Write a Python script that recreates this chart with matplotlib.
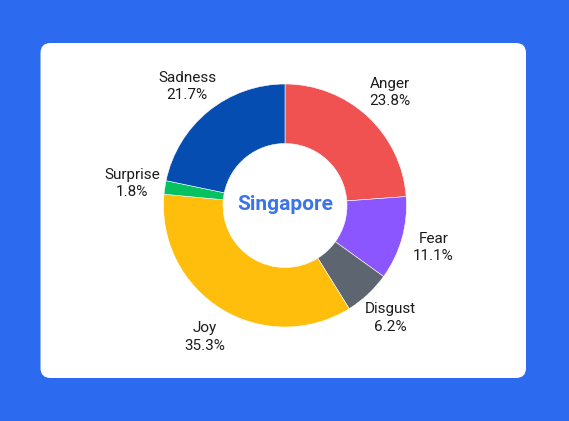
import numpy as np
import matplotlib.pyplot as plt
from matplotlib.patches import FancyBboxPatch

plt.rcParams['font.family'] = ['Roboto', 'DejaVu Sans']

# data
emotions = ['Anger', 'Fear', 'Disgust', 'Joy', 'Surprise', 'Sadness']
shares = [23.8, 11.1, 6.2, 35.3, 1.8, 21.7]
colors = ['#f05252', '#8b55ff', '#5d6570', '#ffbe0b', '#05c160', '#054db0']
center_label = 'Singapore'

W, H = 569, 421
fig = plt.figure(figsize=(W / 100, H / 100), dpi=100)
fig.patch.set_facecolor('#2c6bf0')
ax = fig.add_axes([0, 0, 1, 1])
ax.set_xlim(0, W)
ax.set_ylim(0, H)
ax.set_aspect('equal')
ax.axis('off')

# white card
card = FancyBboxPatch((40.5 + 10, H - 378 + 10), 485.5 - 20, 335 - 20,
                      boxstyle='round,pad=10', fc='white', ec='none')
ax.add_patch(card)

cx, cy = 285, H - 205.5
r_out, r_in = 121.5, 62
ax.pie(shares, colors=colors, startangle=90, counterclock=False,
       center=(cx, cy), radius=r_out, frame=True,
       wedgeprops=dict(width=r_out - r_in, linewidth=0.4, edgecolor='white'))
ax.set_xlim(0, W)
ax.set_ylim(0, H)
ax.axis('off')

# labels outside the ring
cum = np.cumsum([0] + shares[:-1])
for name, val, c0 in zip(emotions, shares, cum):
    ang = np.deg2rad(90 - (c0 + val / 2) * 3.6)
    d = r_out * 1.27
    ax.text(cx + d * np.cos(ang), cy + d * np.sin(ang),
            '{}\n{:.1f}%'.format(name, val), ha='center', va='center',
            fontsize=11, color='#1c1c1c', linespacing=1.3)

ax.text(cx, cy + 1, center_label, ha='center', va='center', fontsize=15,
        fontweight='bold', color='#3b74e8')

fig.savefig('out.png', dpi=100, facecolor=fig.get_facecolor())
